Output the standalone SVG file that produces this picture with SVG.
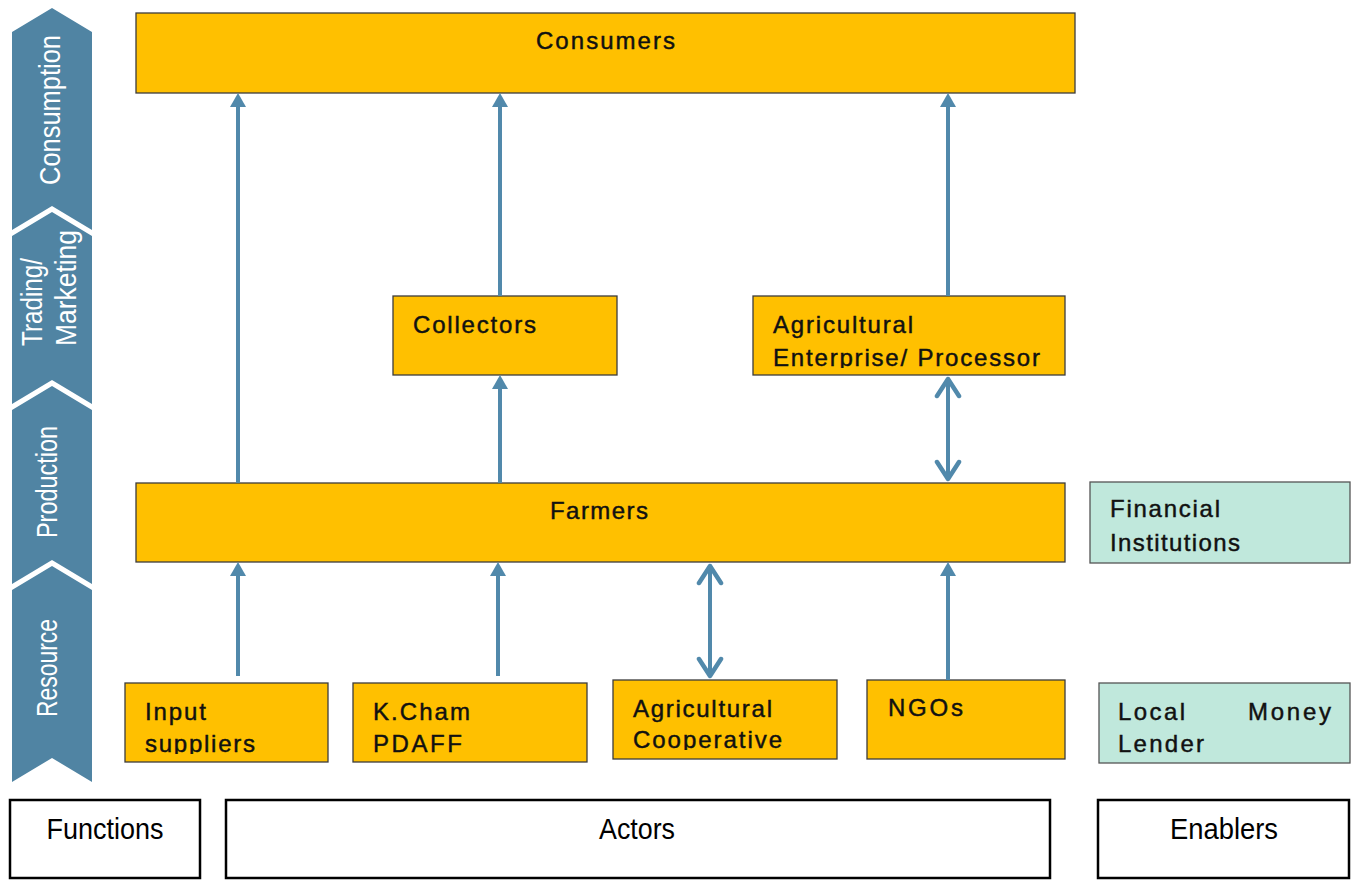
<svg xmlns="http://www.w3.org/2000/svg" width="1354" height="880" viewBox="0 0 1354 880">
<style>
.box{fill:#FFC000;stroke:#3c3c3c;stroke-width:1.3}
.mint{fill:#C0E8DC;stroke:#555;stroke-width:1.3}
.frame{fill:#fff;stroke:#000;stroke-width:2.5}
.chev{fill:#5084A3}
.t{font-family:"Liberation Sans",Arial,sans-serif;font-size:24px;fill:#111;stroke:#111;stroke-width:0.45}
.ct{font-family:"Liberation Sans",Arial,sans-serif;font-size:30px;fill:#fff}
.bt{font-family:"Liberation Sans",Arial,sans-serif;font-size:29px;fill:#000}
.ln{stroke:#5189AB;stroke-width:4;fill:none}
</style>
<defs>
<marker id="tri" viewBox="0 0 14 16" refX="4" refY="8" markerWidth="14" markerHeight="16" orient="auto" markerUnits="userSpaceOnUse">
<path d="M0,0 L14,8 L0,16 Z" fill="#5189AB"/>
</marker>
<marker id="open" viewBox="0 0 26 28" refX="21" refY="14" markerWidth="26" markerHeight="28" orient="auto-start-reverse" markerUnits="userSpaceOnUse">
<path d="M4,3 L21,14 L4,25" fill="none" stroke="#5189AB" stroke-width="4.5" stroke-linecap="round" stroke-linejoin="round"/>
</marker>
<clipPath id="cEnt"><rect x="753" y="296" width="312" height="72"/></clipPath>
<clipPath id="cInp"><rect x="125" y="683" width="203" height="71"/></clipPath>
<clipPath id="cCoop"><rect x="613" y="680" width="224" height="70"/></clipPath>
</defs>

<g id="functions-band">
<path class="chev" d="M12,32 L52,8 L92,32 L92,230 L52,206 L12,230 Z"/>
<path class="chev" d="M12,236 L52,212 L92,236 L92,404 L52,380 L12,404 Z"/>
<path class="chev" d="M12,410 L52,386 L92,410 L92,584 L52,560 L12,584 Z"/>
<path class="chev" d="M12,590 L52,566 L92,590 L92,782 L52,758 L12,782 Z"/>
<text class="ct" transform="translate(60,110) rotate(-90)" text-anchor="middle" textLength="150" lengthAdjust="spacingAndGlyphs">Consumption</text>
<text class="ct" transform="translate(42,346) rotate(-90)" textLength="88" lengthAdjust="spacingAndGlyphs">Trading/</text>
<text class="ct" transform="translate(76,346) rotate(-90)" textLength="116" lengthAdjust="spacingAndGlyphs">Marketing</text>
<text class="ct" transform="translate(57,482) rotate(-90)" text-anchor="middle" textLength="112" lengthAdjust="spacingAndGlyphs">Production</text>
<text class="ct" transform="translate(57,668) rotate(-90)" text-anchor="middle" textLength="98" lengthAdjust="spacingAndGlyphs">Resource</text>
</g>

<g id="consumers">
<rect class="box" x="136" y="13" width="939" height="80"/>
<text class="t" x="536" y="49" textLength="139" lengthAdjust="spacing">Consumers</text>
</g>
<g id="collectors">
<rect class="box" x="393" y="296" width="224" height="79"/>
<text class="t" x="413" y="333" textLength="123" lengthAdjust="spacing">Collectors</text>
</g>
<g id="agri-enterprise">
<rect class="box" x="753" y="296" width="312" height="79"/>
<g clip-path="url(#cEnt)">
<text class="t" x="773" y="366" textLength="267" lengthAdjust="spacing">Enterprise/ Processor</text>
</g>
<text class="t" x="773" y="333" textLength="140" lengthAdjust="spacing">Agricultural</text>
</g>
<g id="farmers">
<rect class="box" x="136" y="483" width="929" height="79"/>
<text class="t" x="550" y="519" textLength="98" lengthAdjust="spacing">Farmers</text>
</g>
<g id="financial-institutions">
<rect class="mint" x="1090" y="482" width="260" height="81"/>
<text class="t" x="1110" y="517" textLength="110" lengthAdjust="spacing">Financial</text>
<text class="t" x="1110" y="551" textLength="130" lengthAdjust="spacing">Institutions</text>
</g>
<g id="input-suppliers">
<rect class="box" x="125" y="683" width="203" height="79"/>
<text class="t" x="145" y="720" textLength="61" lengthAdjust="spacing">Input</text>
<g clip-path="url(#cInp)">
<text class="t" x="145" y="752" textLength="110" lengthAdjust="spacing">suppliers</text>
</g>
</g>
<g id="kcham-pdaff">
<rect class="box" x="353" y="683" width="234" height="79"/>
<text class="t" x="373" y="720" textLength="97" lengthAdjust="spacing">K.Cham</text>
<text class="t" x="373" y="752" textLength="89" lengthAdjust="spacing">PDAFF</text>
</g>
<g id="agri-cooperative">
<rect class="box" x="613" y="680" width="224" height="79"/>
<text class="t" x="633" y="717" textLength="139" lengthAdjust="spacing">Agricultural</text>
<g clip-path="url(#cCoop)">
<text class="t" x="633" y="748" textLength="149" lengthAdjust="spacing">Cooperative</text>
</g>
</g>
<g id="ngos">
<rect class="box" x="867" y="680" width="198" height="79"/>
<text class="t" x="888" y="716" textLength="75" lengthAdjust="spacing">NGOs</text>
</g>
<g id="local-money-lender">
<rect class="mint" x="1099" y="683" width="251" height="80"/>
<text class="t" x="1118" y="720" textLength="67" lengthAdjust="spacing">Local</text>
<text class="t" x="1248" y="720" textLength="83" lengthAdjust="spacing">Money</text>
<text class="t" x="1118" y="752" textLength="86" lengthAdjust="spacing">Lender</text>
</g>

<g id="legend-functions">
<rect class="frame" x="10" y="800" width="190" height="78"/>
<text class="bt" x="105" y="839" text-anchor="middle" textLength="117" lengthAdjust="spacingAndGlyphs">Functions</text>
</g>
<g id="legend-actors">
<rect class="frame" x="226" y="800" width="824" height="78"/>
<text class="bt" x="637" y="839" text-anchor="middle" textLength="76" lengthAdjust="spacingAndGlyphs">Actors</text>
</g>
<g id="legend-enablers">
<rect class="frame" x="1098" y="800" width="251" height="78"/>
<text class="bt" x="1224" y="839" text-anchor="middle" textLength="108" lengthAdjust="spacingAndGlyphs">Enablers</text>
</g>

<g id="connectors">
<line class="ln" x1="238" y1="483" x2="238" y2="103" marker-end="url(#tri)"/>
<line class="ln" x1="500" y1="296" x2="500" y2="103" marker-end="url(#tri)"/>
<line class="ln" x1="948" y1="296" x2="948" y2="103" marker-end="url(#tri)"/>
<line class="ln" x1="500" y1="483" x2="500" y2="385" marker-end="url(#tri)"/>
<line class="ln" x1="948" y1="379" x2="948" y2="479" marker-start="url(#open)" marker-end="url(#open)"/>
<line class="ln" x1="238" y1="676" x2="238" y2="572" marker-end="url(#tri)"/>
<line class="ln" x1="498" y1="676" x2="498" y2="572" marker-end="url(#tri)"/>
<line class="ln" x1="710" y1="566" x2="710" y2="676" marker-start="url(#open)" marker-end="url(#open)"/>
<line class="ln" x1="948" y1="680" x2="948" y2="572" marker-end="url(#tri)"/>
</g>
</svg>
